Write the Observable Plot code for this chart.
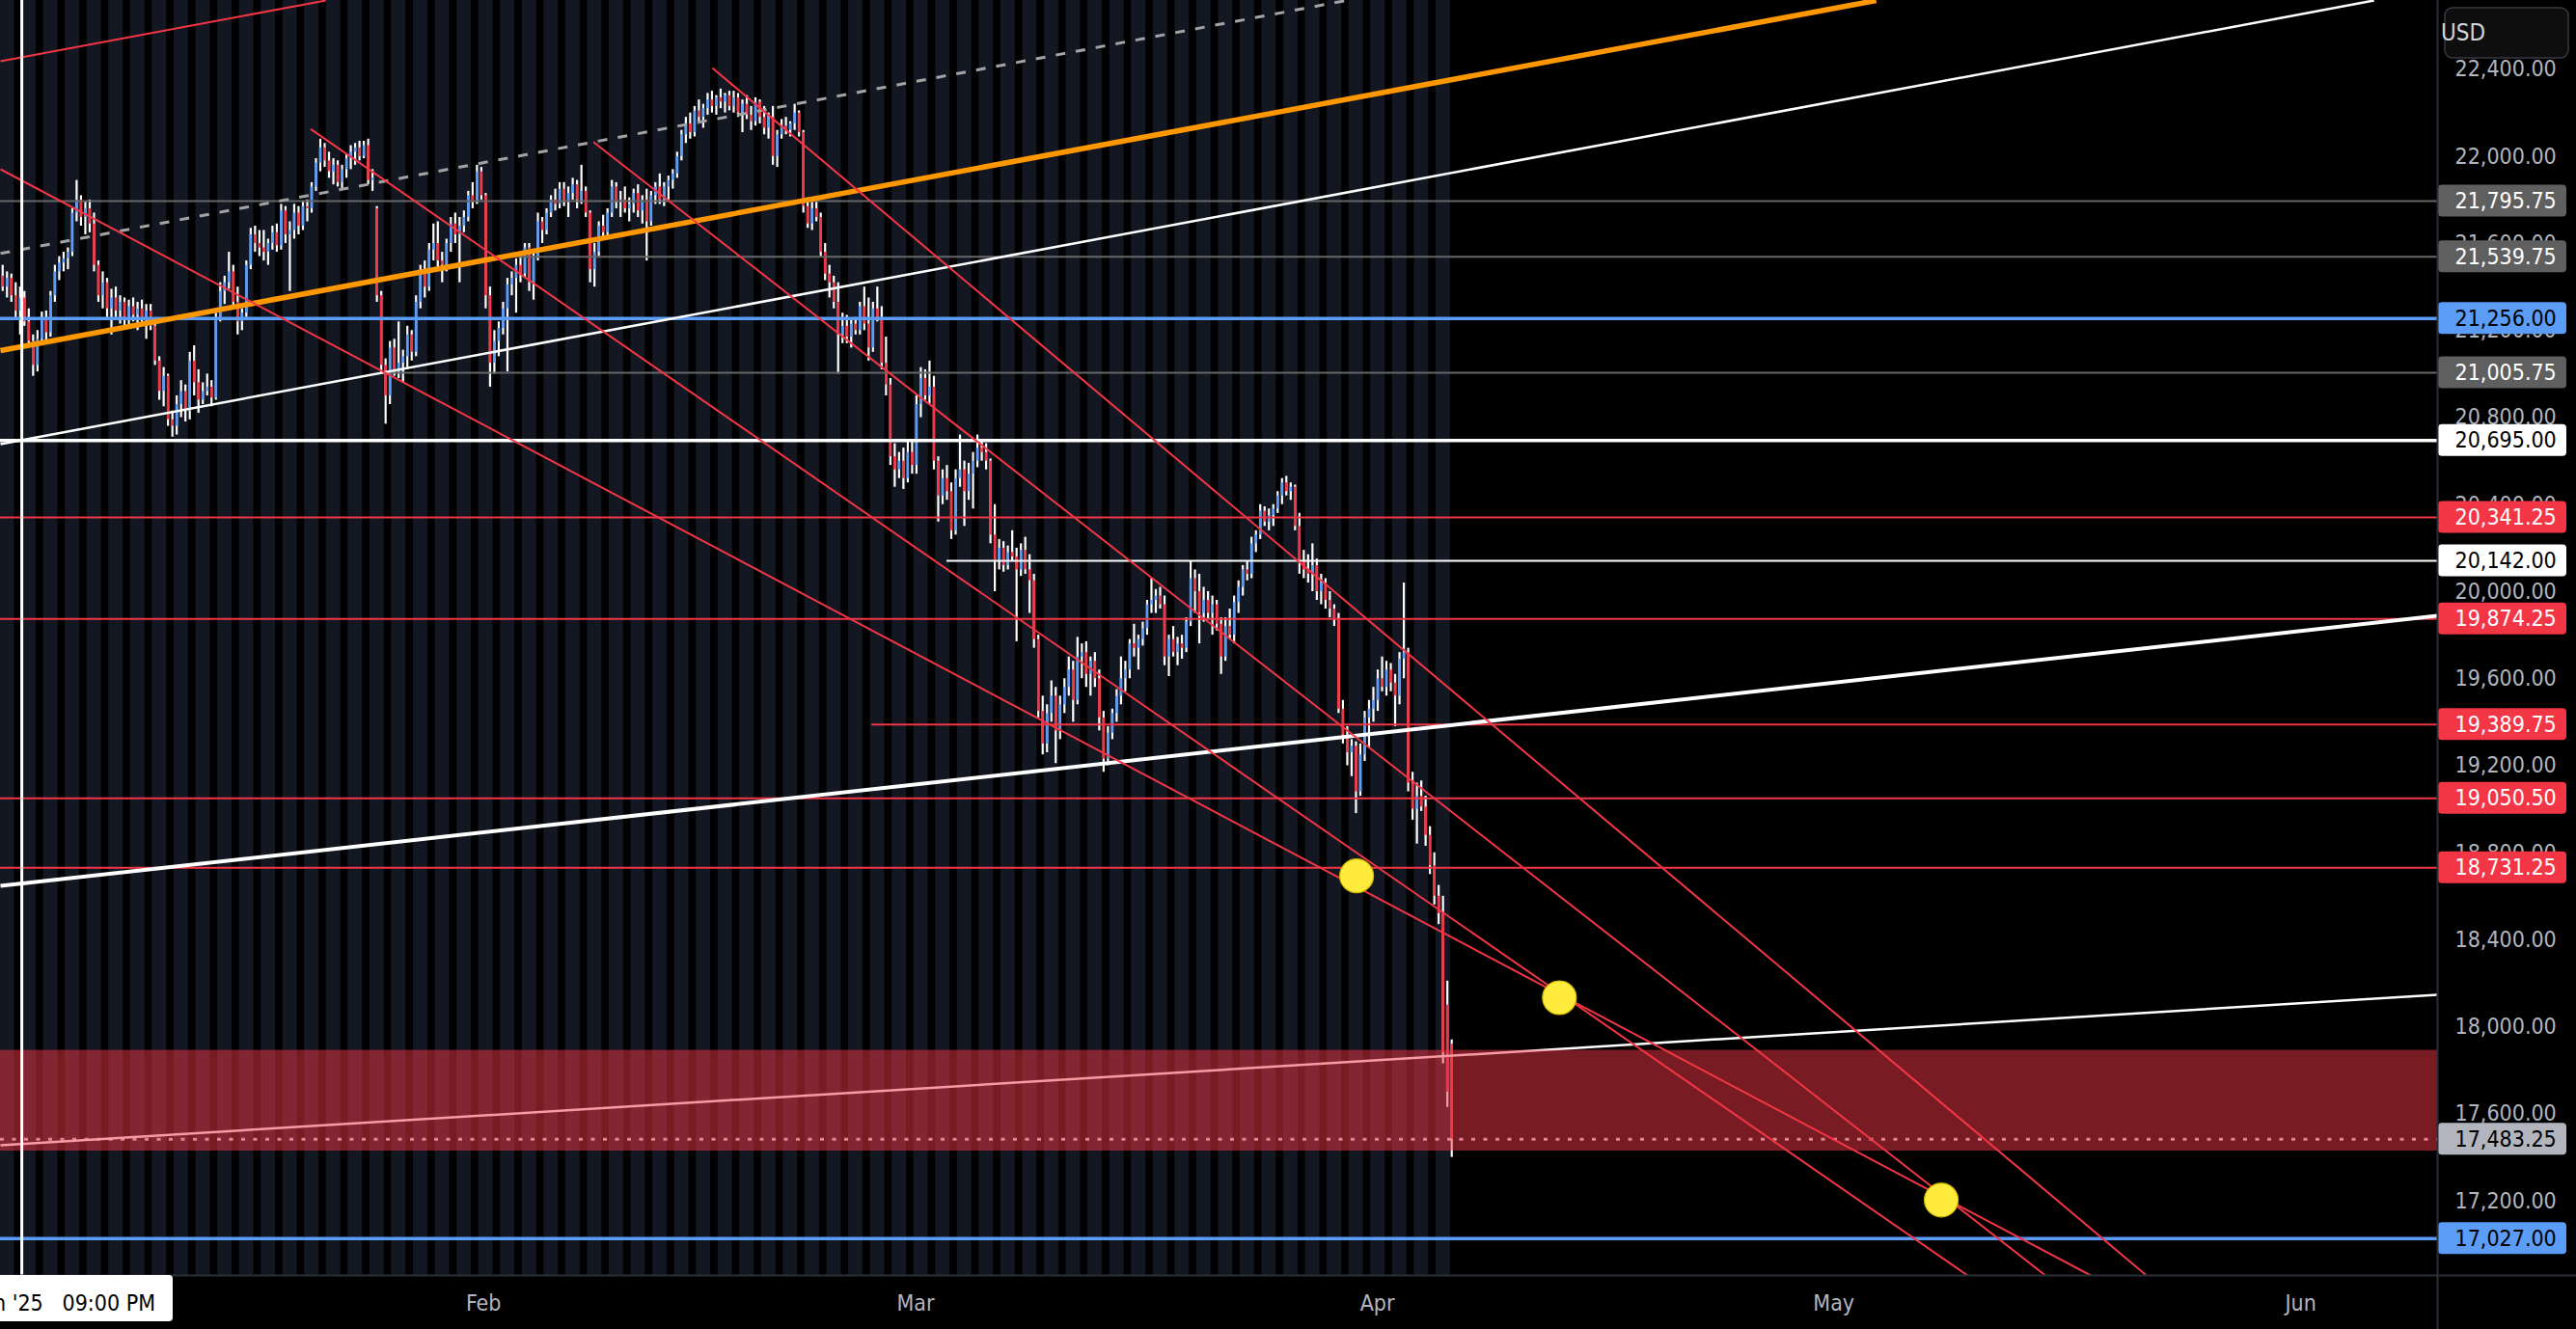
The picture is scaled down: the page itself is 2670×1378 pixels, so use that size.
<!DOCTYPE html>
<html>
<head>
<meta charset="utf-8">
<script src="https://cdn.jsdelivr.net/npm/d3@7"></script>
<script src="https://cdn.jsdelivr.net/npm/@observablehq/plot@0.6"></script>
<style>
  html, body { margin: 0; padding: 0; background: #000; }
  #root svg { display: block; }
</style>
</head>
<body>
<div id="root"></div>
<script>
// ---------------- DATA ----------------
// 4-hour candles [open, high, low, close], first bar at barStartDay, barsPerDay per trading day
const barStartDay = -22.1;
const barsPerDay = 5;
const bars = [
[21450,21500,21380,21400],[21400,21470,21350,21440],[21440,21460,21330,21360],
[21360,21420,21250,21290],[21290,21400,21180,21350],[21350,21380,21220,21240],
[21240,21300,21120,21150],[21150,21180,20990,21040],[21040,21200,21010,21160],
[21160,21285,21130,21250],[21250,21290,21140,21190],
[21190,21380,21170,21360],[21360,21500,21330,21470],[21470,21540,21430,21510],
[21510,21560,21470,21530],[21530,21580,21480,21560],
[21560,21760,21540,21740],[21740,21890,21700,21800],
[21800,21820,21680,21720],[21720,21790,21640,21760],[21760,21800,21650,21690],[21690,21740,21470,21500],
[21500,21520,21330,21360],[21360,21470,21300,21420],[21420,21440,21260,21300],[21300,21390,21180,21350],[21350,21400,21260,21290],
[21290,21360,21230,21330],[21330,21350,21220,21260],[21260,21340,21210,21310],[21310,21350,21240,21270],
[21270,21330,21200,21300],[21300,21340,21230,21250],[21250,21320,21160,21290],[21290,21320,21200,21220],
[21220,21250,21040,21060],[21060,21080,20880,20920],
[20920,21030,20850,20990],[20990,21000,20760,20790],[20790,20830,20710,20760],[20760,20900,20720,20860],
[20860,20970,20800,20920],[20920,20950,20780,20830],
[20830,21100,20790,21060],[21060,21130,20900,20960],[20960,21020,20820,20880],
[20880,20960,20860,20920],[20920,21000,20900,20940],[20940,20970,20850,20890],[20890,21280,20880,21260],
[21260,21420,21240,21380],[21380,21450,21320,21420],[21420,21560,21390,21470],[21470,21500,21300,21330],
[21330,21400,21180,21240],[21240,21300,21200,21280],[21280,21520,21260,21500],
[21500,21670,21480,21640],[21640,21680,21560,21600],[21600,21660,21540,21580],
[21580,21660,21520,21560],[21560,21620,21500,21600],[21600,21680,21570,21650],[21650,21690,21560,21590],
[21590,21780,21570,21750],[21750,21770,21600,21640],[21640,21700,21380,21660],
[21660,21780,21620,21740],[21740,21770,21640,21680],[21680,21790,21660,21770],[21770,21800,21700,21760],
[21760,21880,21740,21860],[21860,21990,21840,21970],[21970,22080,21930,22040],[22040,22060,21950,21980],
[21980,22020,21900,21930],[21930,21990,21870,21960],[21960,21980,21860,21880],[21880,21960,21850,21940],[21940,22010,21900,21990],
[21990,22050,21940,22020],[22020,22060,21960,22040],[22040,22070,21980,22000],[22000,22070,21990,22050],[22050,22080,21870,21890],[21890,21940,21840,21900],
[21760,21770,21330,21360],
[21360,21380,21000,21040],[21040,21070,20770,20900],[20900,21150,20860,21120],[21120,21160,20990,21010],
[21010,21240,20980,21050],[21050,21110,20960,21080],[21080,21220,21020,21180],[21180,21200,21060,21100],
[21100,21360,21080,21330],[21330,21500,21300,21470],[21470,21520,21350,21400],[21400,21600,21380,21570],[21570,21690,21520,21600],
[21600,21700,21480,21520],[21520,21560,21420,21500],[21500,21620,21470,21600],[21600,21720,21560,21690],
[21690,21740,21600,21640],[21640,21720,21420,21680],[21680,21750,21650,21720],
[21720,21840,21700,21820],[21820,21880,21760,21790],[21790,21960,21780,21930],[21930,21950,21800,21820],
[21820,21830,21300,21360],[21360,21400,20940,21050],[21050,21200,21000,21150],[21150,21240,21080,21210],
[21210,21330,21180,21300],[21300,21440,21010,21410],[21410,21470,21360,21440],[21440,21530,21280,21500],
[21500,21560,21420,21460],[21460,21600,21440,21580],[21580,21600,21380,21420],
[21420,21560,21340,21540],[21540,21740,21520,21700],[21700,21720,21600,21660],[21660,21760,21640,21740],
[21740,21820,21720,21800],[21800,21850,21750,21780],[21780,21880,21760,21850],[21850,21880,21770,21790],
[21790,21860,21720,21830],[21830,21900,21800,21870],[21870,21890,21760,21800],[21800,21960,21780,21840],[21840,21860,21720,21740],
[21740,21750,21420,21480],[21480,21600,21400,21560],
[21560,21700,21540,21680],[21680,21730,21620,21650],[21650,21760,21630,21740],
[21740,21890,21720,21860],[21860,21880,21760,21790],[21790,21840,21720,21800],[21800,21860,21740,21760],
[21760,21810,21700,21780],[21780,21850,21740,21830],[21830,21870,21720,21750],[21750,21820,21690,21800],
[21800,21850,21520,21700],[21700,21840,21680,21820],[21820,21880,21780,21860],
[21860,21920,21780,21800],[21800,21880,21770,21860],[21860,21910,21800,21890],[21890,21940,21850,21920],
[21920,22020,21900,22000],[22000,22120,21980,22100],[22100,22180,22060,22150],[22150,22200,22080,22110],
[22110,22230,22090,22210],[22210,22260,22150,22180],[22180,22240,22130,22220],
[22220,22290,22190,22260],[22260,22300,22200,22230],[22230,22280,22190,22270],[22270,22310,22220,22250],
[22250,22290,22200,22280],[22280,22300,22210,22230],[22230,22300,22200,22270],
[22270,22290,22180,22200],[22200,22260,22110,22240],[22240,22280,22170,22190],[22190,22230,22120,22160],
[22160,22270,22140,22250],[22250,22260,22150,22180],
[22180,22230,22100,22130],[22130,22200,22080,22180],[22180,22230,21960,22000],[22000,22120,21950,22100],
[22100,22170,22080,22140],[22140,22180,22100,22120],[22120,22160,22090,22150],[22150,22240,22120,22200],[22200,22210,22090,22110],
[22110,22120,21740,21770],
[21770,21810,21670,21690],[21690,21790,21660,21760],[21760,21800,21700,21720],
[21720,21740,21540,21560],[21560,21600,21430,21460],[21460,21500,21350,21420],
[21420,21450,21300,21330],[21330,21420,21000,21180],[21180,21280,21140,21220],
[21220,21270,21140,21170],[21170,21250,21120,21230],[21230,21260,21180,21200],
[21200,21330,21180,21310],[21310,21400,21200,21230],[21230,21350,21060,21120],[21120,21330,21100,21300],
[21300,21400,21240,21260],[21260,21310,21020,21050],
[21050,21170,20900,20950],[20950,20980,20580,20620],
[20620,20680,20480,20560],[20560,20640,20520,20600],[20600,20660,20470,20520],[20520,20690,20500,20640],[20640,20700,20540,20580],
[20580,20900,20540,20860],[20860,21030,20800,20980],[20980,21020,20880,20900],[20900,21060,20860,20940],
[20940,20990,20560,20600],
[20600,20620,20320,20440],[20440,20560,20400,20520],[20520,20580,20420,20460],[20460,20500,20240,20280],
[20280,20560,20260,20520],[20520,20720,20480,20560],[20560,20600,20300,20460],[20460,20590,20420,20540],[20540,20640,20380,20600],
[20600,20720,20570,20660],[20660,20700,20600,20640],[20640,20680,20560,20600],
[20600,20610,20220,20260],[20260,20400,20000,20140],
[20140,20240,20100,20200],[20200,20230,20090,20120],[20120,20210,20100,20180],[20180,20280,20140,20160],
[20160,20200,19770,20100],[20100,20220,20070,20190],[20190,20250,20080,20100],[20100,20170,19900,20050],[20050,20080,19740,19780],
[19780,19800,19420,19450],[19450,19520,19250,19300],[19300,19480,19260,19440],
[19440,19590,19400,19520],[19520,19560,19210,19360],[19360,19520,19320,19480],[19480,19600,19440,19560],
[19560,19700,19520,19640],[19640,19680,19400,19500],[19500,19790,19480,19700],[19700,19760,19600,19720],
[19720,19770,19560,19620],[19620,19700,19520,19680],
[19680,19720,19560,19600],[19600,19640,19360,19420],
[19420,19450,19170,19230],[19230,19380,19200,19350],
[19350,19460,19320,19440],[19440,19550,19400,19520],[19520,19700,19480,19600],[19600,19680,19540,19640],
[19640,19780,19600,19760],[19760,19850,19700,19740],[19740,19800,19640,19780],[19780,19860,19750,19830],
[19830,19960,19800,19940],[19940,20060,19900,19960],[19960,20010,19900,19980],[19980,20020,19920,19940],[19940,19980,19660,19700],
[19700,19800,19610,19780],[19780,19840,19700,19720],[19720,19790,19660,19760],[19760,19800,19690,19740],[19740,19880,19720,19860],
[19860,20140,19840,20060],[20060,20100,19900,20000],[20000,20080,19760,19900],[19900,20020,19860,19960],[19960,20000,19870,19900],
[19900,19980,19800,19940],[19940,19960,19820,19850],[19850,19880,19620,19700],[19700,19880,19680,19840],[19840,19920,19780,19800],[19800,19980,19760,19950],
[19950,20050,19900,20020],[20020,20120,19980,20100],[20100,20140,20050,20080],[20080,20250,20060,20220],[20220,20280,20180,20260],
[20260,20400,20240,20370],[20370,20390,20300,20320],[20320,20380,20280,20350],[20350,20400,20300,20380],
[20380,20460,20360,20440],[20440,20520,20400,20500],[20500,20530,20440,20460],[20460,20500,20420,20480],
[20480,20490,20280,20300],[20300,20360,20080,20140],
[20140,20190,20060,20100],[20100,20170,20040,20080],[20080,20220,20000,20120],[20120,20150,19960,20000],
[20000,20080,19940,20040],[20040,20060,19920,19960],[19960,20000,19880,19920],[19920,19940,19840,19870],
[19870,19900,19440,19460],
[19460,19500,19300,19340],[19340,19380,19200,19260],[19260,19320,19150,19290],[19290,19310,18980,19080],[19080,19300,19060,19250],
[19250,19450,19220,19420],[19420,19500,19280,19460],[19460,19560,19400,19500],[19500,19640,19450,19600],
[19600,19700,19540,19560],[19560,19680,19520,19640],[19640,19670,19540,19580],[19580,19620,19380,19520],[19520,19720,19480,19690],
[19690,20040,19600,19720],[19720,19740,19080,19120],
[19120,19170,18950,19000],[19000,19120,18840,19060],[19060,19130,18990,19010],[19010,19060,18830,18880],
[18880,18920,18700,18740],[18740,18800,18560,18600],[18600,18650,18470,18520],
[18520,18600,17830,17880],[18100,18210,17630,17700],[17920,17940,17400,17483.25]
];

// session (trading-day) background bands
const sessionDays = d3.range(-23, 44);

// horizontal level drawings
const levelPrices = [21795.75, 21539.75, 21256.00, 21005.75, 20695.00, 20341.25, 20142.00, 19874.25, 19389.75, 19050.50, 18731.25, 17027.00];
const levelKinds  = ["grey", "grey", "blue", "grey", "whiteBold", "red", "white", "red", "red", "red", "red", "blue"];
const levelStarts = [-22.2, 0.86, -22.2, -4.55, -22.2, -22.2, 21.3, -22.2, 17.85, -22.2, -22.2, -22.2];
const lastPrice = 17483.25;

// trend line drawings: [day, price] anchors
const trendKinds  = ["orange", "dashed", "whiteThin", "red", "whiteBold", "whiteThin", "red", "red", "red", "red"];
const trendStarts = [[-22.2, 21108.2], [-22.2, 21554.5], [-22.2, 20678.2], [-22.2, 22437.9], [-22.2, 18648.0], [-22.2, 17455.7], [10.52, 22406.9], [5.05, 22066.9], [-7.94, 22126.3], [-22.2, 21941.5]];
const trendEnds   = [[64.01, 22717.2], [39.66, 22717.2], [86.89, 22717.2], [-7.25, 22717.2], [89.81, 19889.2], [89.81, 18147.2], [76.43, 16857.3], [71.79, 16857.3], [68.21, 16857.3], [73.87, 16857.3]];

// target circles
const circleDays   = [40.13, 49.45, 67.0];
const circlePrices = [18694, 18134, 17204];

// red demand zone
const zoneLow = 17429, zoneHigh = 17892;

// crosshair
const crossDay = -21.22;
const crossLabel = "Thu 02 Jan '25   09:00 PM";

// axes
const yTicks = [17200, 17600, 18000, 18400, 18800, 19200, 19600, 20000, 20400, 20800, 21200, 21600, 22000, 22400];
const monthDays  = [0, 19.86, 41.08, 62.06, 83.52];
const monthNames = ["Feb", "Mar", "Apr", "May", "Jun"];
const currency = "USD";

// ---------------- STYLE ----------------
const W = 2670, H = 1378, mR = 144, mB = 56;
const frameW = W - mR, frameH = H - mB;
const xDomain = [-22.2, 89.81], yDomain = [16857.3, 22717.2];
const xAtPx = px => xDomain[0] + px * (xDomain[1] - xDomain[0]) / frameW;
const NAVY = "#131722", BLUE = "#5b9cf6", RED = "#f23645", GREY = "#666666", ORANGE = "#ff9800", YELLOW = "#ffeb3b", AXIS = "#b2b5be";
const FONT = "'DejaVu Sans Condensed', 'DejaVu Sans', sans-serif";
const fmt = d3.format(",.2f");

const levelStyle = {
  grey: {stroke: GREY, w: 2},
  blue: {stroke: BLUE, w: 3.5},
  whiteBold: {stroke: "#ffffff", w: 3.5},
  white: {stroke: "#ffffff", w: 2},
  red: {stroke: RED, w: 2}
};
const trendStyle = {
  orange: {stroke: ORANGE, w: 5.5},
  dashed: {stroke: "#a3a3a3", w: 3, dash: "10,11"},
  whiteThin: {stroke: "#ffffff", w: 2.5},
  whiteBold: {stroke: "#ffffff", w: 4},
  red: {stroke: RED, w: 2}
};
const labelFill = {grey: "#5f5f5f", blue: BLUE, whiteBold: "#ffffff", white: "#ffffff", red: RED, last: AXIS};
const labelText = {grey: "#ffffff", blue: "#000000", whiteBold: "#000000", white: "#000000", red: "#ffffff", last: "#000000"};

// ---------------- BUILD ----------------
const barRows = bars.map((b, i) => ({x: barStartDay + i / barsPerDay, o: b[0], h: b[1], l: b[2], c: b[3]}));
const levels = levelPrices.map((p, i) => ({price: p, kind: levelKinds[i], start: levelStarts[i]}));
const trends = trendKinds.map((k, i) => ({kind: k, x1: trendStarts[i][0], y1: trendStarts[i][1], x2: trendEnds[i][0], y2: trendEnds[i][1]}));
const circles = circleDays.map((d, i) => ({d, p: circlePrices[i]}));
const labels = levels.map(l => ({price: l.price, kind: l.kind})).concat([{price: lastPrice, kind: "last"}]);

const chart = Plot.plot({
  width: W, height: H,
  marginLeft: 0, marginTop: 0, marginRight: mR, marginBottom: mB,
  x: {domain: xDomain},
  y: {domain: yDomain},
  color: {type: "identity"},
  style: {background: "#000", color: AXIS, fontFamily: FONT, fontSize: "23px"},
  marks: [
    Plot.rect(sessionDays, {x1: d => d + 0.78, x2: d => d + 1.44, fill: NAVY}),
    Plot.ruleX(barRows, {x: "x", y1: "l", y2: "h", stroke: "#ffffff", strokeWidth: 2.2}),
    Plot.ruleX(barRows.filter(d => d.c >= d.o), {x: "x", y1: "o", y2: "c", stroke: BLUE, strokeWidth: 2.7}),
    Plot.ruleX(barRows.filter(d => d.c < d.o), {x: "x", y1: "o", y2: "c", stroke: RED, strokeWidth: 2.7}),
    ...Object.entries(levelStyle).map(([k, s]) =>
      Plot.ruleY(levels.filter(d => d.kind === k), {y: "price", x1: "start", x2: () => xDomain[1], stroke: s.stroke, strokeWidth: s.w})),
    Plot.ruleY([lastPrice], {stroke: "#d1d4dc", strokeWidth: 3, strokeDasharray: "4,8.5"}),
    ...Object.entries(trendStyle).map(([k, s]) =>
      Plot.link(trends.filter(d => d.kind === k), {x1: "x1", y1: "y1", x2: "x2", y2: "y2", stroke: s.stroke, strokeWidth: s.w, strokeDasharray: s.dash, clip: true})),
    Plot.dot(circles, {x: "d", y: "p", r: 17.5, fill: YELLOW, stroke: "#d4b800", strokeWidth: 1.2}),
    Plot.rect([{lo: zoneLow, hi: zoneHigh}], {y1: "lo", y2: "hi", fill: RED, fillOpacity: 0.5}),
    Plot.ruleX([crossDay], {stroke: "#ffffff", strokeWidth: 3}),
    Plot.axisY({anchor: "right", ticks: yTicks, tickSize: 0, tickPadding: 18, tickFormat: fmt}),
    Plot.axisX({ticks: monthDays, tickSize: 0, tickPadding: 20, tickFormat: d => monthNames[monthDays.indexOf(d)]}),
    Plot.rect(labels, {x1: () => xAtPx(frameW + 1), x2: () => xAtPx(2660), y1: "price", y2: "price",
      insetTop: -16.5, insetBottom: -16.5, fill: d => labelFill[d.kind], rx: 4}),
    Plot.text(labels, {x: () => xAtPx(2544), y: "price", text: d => fmt(d.price), textAnchor: "start", fill: d => labelText[d.kind]})
  ]
});

document.getElementById("root").append(chart);

// chart chrome: pane separators, currency button, crosshair time label
const svg = d3.select(chart);
svg.style("font-stretch", "condensed");
svg.append("line").attr("x1", 0).attr("x2", W).attr("y1", frameH + 0.5).attr("y2", frameH + 0.5)
  .attr("stroke", "#2a2e39").attr("stroke-width", 2);
svg.append("line").attr("x1", frameW + 0.5).attr("x2", frameW + 0.5).attr("y1", 0).attr("y2", H)
  .attr("stroke", "#2a2e39").attr("stroke-width", 2);
svg.append("rect").attr("x", 2534).attr("y", 8).attr("width", 128).attr("height", 52).attr("rx", 8)
  .attr("fill", "#0e0e0e").attr("stroke", "#363a45").attr("stroke-width", 1.5);
svg.append("text").attr("x", 2553).attr("y", 34).attr("dy", "0.35em").attr("fill", "#d1d4dc")
  .style("font-size", "24px").text(currency);
svg.append("rect").attr("x", -10).attr("y", frameH).attr("width", 189).attr("height", 48).attr("rx", 4)
  .attr("fill", "#ffffff");
svg.append("text").attr("x", 161).attr("y", frameH + 29).attr("dy", "0.35em").attr("text-anchor", "end")
  .attr("fill", "#000000").style("white-space", "pre").style("font-size", "23px").text(crossLabel);
</script>
</body>
</html>
